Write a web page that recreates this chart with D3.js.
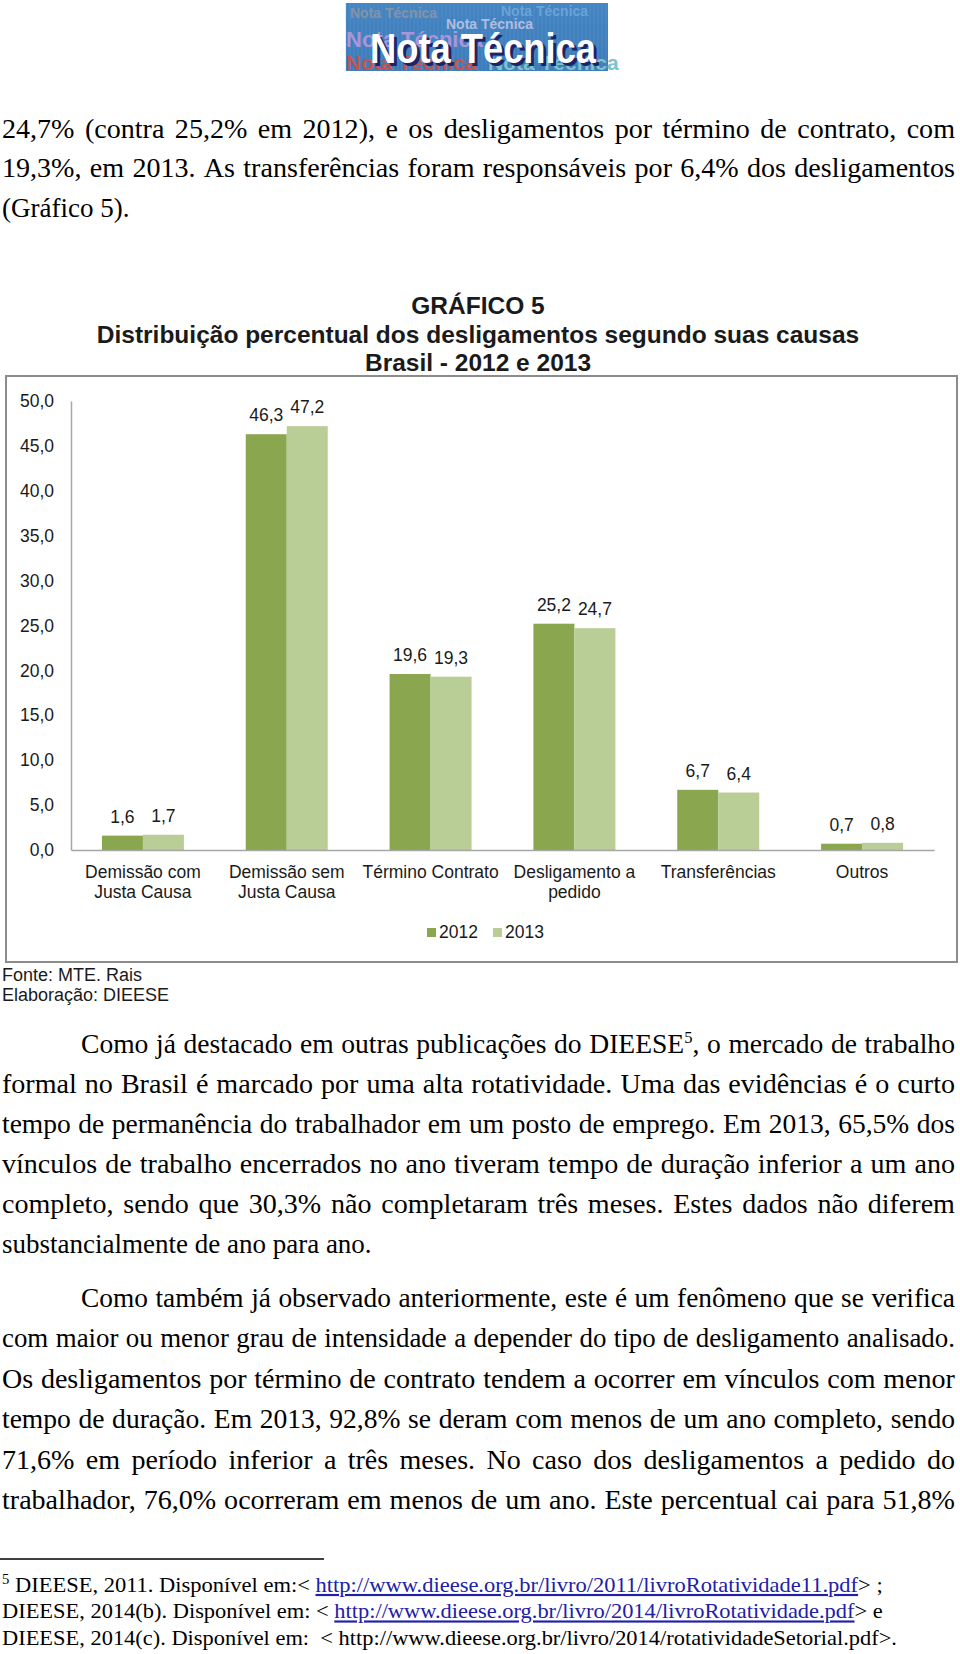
<!DOCTYPE html>
<html>
<head>
<meta charset="utf-8">
<style>
  body { margin: 0; background: #fff; }
  svg { display: block; }
</style>
</head>
<body>
<svg id="page" width="960" height="1654"></svg>
<script src="https://d3js.org/d3.v7.min.js"></script>
<script>
// chart data
const categories = ["Demissão com Justa Causa", "Demissão sem Justa Causa", "Término Contrato",
                    "Desligamento a pedido", "Transferências", "Outros"];
const categoryLines = [["Demissão com", "Justa Causa"], ["Demissão sem", "Justa Causa"], ["Término Contrato"],
                       ["Desligamento a", "pedido"], ["Transferências"], ["Outros"]];
const years = ["2012", "2013"];
const values2012 = [1.6, 46.3, 19.6, 25.2, 6.7, 0.7];
const values2013 = [1.7, 47.2, 19.3, 24.7, 6.4, 0.8];
const yTicks = [0, 5, 10, 15, 20, 25, 30, 35, 40, 45, 50];
const colors = {"2012": "#8aa64e", "2013": "#b9cd96"};

const titleLines = ["GRÁFICO 5", "Distribuição percentual dos desligamentos segundo suas causas", "Brasil - 2012 e 2013"];
const sourceLines = ["Fonte: MTE. Rais", "Elaboração: DIEESE"];

// body text, one entry per printed line; "^" marks superscript
const para0 = ["24,7% (contra 25,2% em 2012), e os desligamentos por término de contrato, com",
               "19,3%, em 2013. As transferências foram responsáveis por 6,4% dos desligamentos",
               "(Gráfico 5)."];
const para1 = ["Como já destacado em outras publicações do DIEESE^5^, o mercado de trabalho",
               "formal no Brasil é marcado por uma alta rotatividade. Uma das evidências é o curto",
               "tempo de permanência do trabalhador em um posto de emprego. Em 2013, 65,5% dos",
               "vínculos de trabalho encerrados no ano tiveram tempo de duração inferior a um ano",
               "completo, sendo que 30,3% não completaram três meses. Estes dados não diferem",
               "substancialmente de ano para ano."];
const para2 = ["Como também já observado anteriormente, este é um fenômeno que se verifica",
               "com maior ou menor grau de intensidade a depender do tipo de desligamento analisado.",
               "Os desligamentos por término de contrato tendem a ocorrer em vínculos com menor",
               "tempo de duração. Em 2013, 92,8% se deram com menos de um ano completo, sendo",
               "71,6% em período inferior a três meses. No caso dos desligamentos a pedido do",
               "trabalhador, 76,0% ocorreram em menos de um ano. Este percentual cai para 51,8%"];

const svg = d3.select("#page");
const fmt = v => d3.format(".1f")(v).replace(".", ",");

// ---------- logo ----------
const logo = svg.append("g").attr("transform", "translate(346,3)");
const grad = svg.append("defs").append("linearGradient").attr("id", "lg").attr("x1", 0).attr("y1", 0).attr("x2", 0).attr("y2", 1);
grad.append("stop").attr("offset", 0).attr("stop-color", "#4584c2");
grad.append("stop").attr("offset", 1).attr("stop-color", "#3d7bb9");
logo.append("rect").attr("width", 262).attr("height", 68).attr("fill", "url(#lg)");
logo.selectAll("line.g").data(d3.range(0, 262, 4)).join("line")
  .attr("x1", d => d).attr("x2", d => d).attr("y1", 0).attr("y2", 68)
  .attr("stroke", "#6aa0d2").attr("stroke-opacity", 0.35).attr("stroke-width", 1);
const bg = [
  {x: 4, y: 15, s: 14, c: "#8593a6"}, {x: 100, y: 26, s: 14, c: "#b0bde0"},
  {x: 155, y: 13, s: 14, c: "#6aa4d6"}, {x: 0, y: 44, s: 22, c: "#a995da"},
  {x: 0, y: 67, s: 21, c: "#c4544f"}, {x: 142, y: 67, s: 21, c: "#7cc4ca"}
];
logo.selectAll("text.bg").data(bg).join("text")
  .attr("x", d => d.x).attr("y", d => d.y)
  .attr("font-family", "Liberation Sans, Arial, sans-serif").attr("font-weight", "bold")
  .attr("font-size", d => d.s).attr("fill", d => d.c)
  .text("Nota Técnica");
logo.append("text").attr("x", 27).attr("y", 63)
  .attr("font-family", "Liberation Sans, Arial, sans-serif").attr("font-weight", "bold")
  .attr("font-size", 43).attr("fill", "#1b2466")
  .attr("textLength", 226).attr("lengthAdjust", "spacingAndGlyphs").text("Nota Técnica");
logo.append("text").attr("x", 24).attr("y", 60)
  .attr("font-family", "Liberation Sans, Arial, sans-serif").attr("font-weight", "bold")
  .attr("font-size", 43).attr("fill", "#ffffff")
  .attr("textLength", 226).attr("lengthAdjust", "spacingAndGlyphs").text("Nota Técnica");

// ---------- justified body text ----------
const serif = "'Liberation Serif', 'Times New Roman', serif";
const bodySize = 27;
const textLeft = 2, textRight = 955;

function addWord(g, word, size) {
  const t = g.append("text").attr("font-family", serif).attr("font-size", size).attr("fill", "#000");
  const parts = word.split("^");
  parts.forEach((p, i) => {
    if (!p) return;
    if (i % 2 === 1) t.append("tspan").attr("font-size", size * 0.6).attr("dy", -size * 0.38).text(p);
    else {
      const ts = t.append("tspan").text(p);
      if (i > 0) ts.attr("dy", size * 0.38);
    }
  });
  return t;
}

const spaceW = (() => { const t = addWord(svg, "a a", bodySize); const w1 = t.node().getComputedTextLength();
  t.text("aa"); const w2 = t.node().getComputedTextLength(); t.remove(); return w1 - w2; })();

function paragraph(lines, y0, step, indent, lastJustified) {
  lines.forEach((ln, i) => {
    const g = svg.append("g");
    const yy = y0 + i * step;
    const x0 = i === 0 ? textLeft + indent : textLeft;
    const words = ln.split(" ").map(w => {
      const t = addWord(g, w, bodySize).attr("y", yy);
      return {t, w: t.node().getComputedTextLength()};
    });
    const justify = i < lines.length - 1 || lastJustified;
    const sumW = d3.sum(words, d => d.w);
    const nat = sumW + spaceW * 1.1 * (words.length - 1);
    const avail = textRight - x0;
    // glyphs are stretched or squeezed a little so spacing stays even, as in the scan
    const sx = justify ? Math.max(0.86, Math.min(1.04, avail / nat)) : 1.0;
    const gap = justify && words.length > 1 ? (avail - sumW * sx) / (words.length - 1) : spaceW * sx;
    let x = x0;
    words.forEach(d => { d.t.attr("x", x / sx); x += d.w * sx + gap; });
    g.attr("transform", `scale(${sx},1)`);
  });
}
paragraph(para0, 138, 39.5, 0, false);
paragraph(para1, 1053, 40, 79, false);
paragraph(para2, 1307, 40.4, 79, true);

// ---------- chart ----------
const sans = "Liberation Sans, Arial, sans-serif";
svg.selectAll("text.title").data(titleLines).join("text")
  .attr("x", 478).attr("y", (d, i) => 314 + i * 28.5)
  .attr("text-anchor", "middle").attr("font-family", sans).attr("font-weight", "bold")
  .attr("font-size", 24.5).attr("fill", "#1a1a1a")
  .text(d => d);

svg.append("rect").attr("x", 6).attr("y", 376).attr("width", 951).attr("height", 586)
  .attr("fill", "none").attr("stroke", "#8c8c8c").attr("stroke-width", 2);

const x = d3.scaleBand().domain(categories).range([71, 934]).paddingInner(0.43).paddingOuter(0.215);
const xi = d3.scaleBand().domain(years).range([0, x.bandwidth()]);
const y = d3.scaleLinear().domain([0, 50]).range([850, 401]);

const yAxis = svg.append("g").attr("transform", "translate(71,0)")
  .call(d3.axisLeft(y).tickValues(yTicks).tickSize(0).tickSizeOuter(0).tickPadding(17).tickFormat(fmt));
yAxis.select(".domain").attr("stroke", "#a6a6a6").attr("stroke-width", 1.5);
yAxis.selectAll("text").attr("font-family", sans).attr("font-size", 17.5).attr("fill", "#1a1a1a");

const rows = categories.map((c, i) => ({cat: c, vals: [
  {year: "2012", v: values2012[i]}, {year: "2013", v: values2013[i]}]}));

const groups = svg.append("g").selectAll("g").data(rows).join("g")
  .attr("transform", d => `translate(${x(d.cat)},0)`);
groups.selectAll("rect").data(d => d.vals).join("rect")
  .attr("x", d => xi(d.year)).attr("width", xi.bandwidth())
  .attr("y", d => y(d.v)).attr("height", d => y(0) - y(d.v))
  .attr("fill", d => colors[d.year]);
groups.selectAll("text").data(d => d.vals).join("text")
  .attr("x", d => xi(d.year) + xi.bandwidth() / 2).attr("y", d => y(d.v) - 13)
  .attr("text-anchor", "middle").attr("font-family", sans).attr("font-size", 17.5).attr("fill", "#1a1a1a")
  .text(d => fmt(d.v));

const xAxis = svg.append("g").attr("transform", "translate(0,850)")
  .call(d3.axisBottom(x).tickSize(0).tickSizeOuter(0).tickFormat(""));
xAxis.select(".domain").attr("stroke", "#a6a6a6").attr("stroke-width", 1.5);

svg.append("g").selectAll("text").data(categories).join("text")
  .attr("x", d => x(d) + x.bandwidth() / 2).attr("y", 878)
  .attr("text-anchor", "middle").attr("font-family", sans).attr("font-size", 17.5).attr("fill", "#1a1a1a")
  .each(function(d, i) {
    d3.select(this).selectAll("tspan").data(categoryLines[i]).join("tspan")
      .attr("x", x(d) + x.bandwidth() / 2).attr("dy", (l, j) => j === 0 ? 0 : 20).text(l => l);
  });

// legend
const leg = svg.append("g").selectAll("g").data(years).join("g")
  .attr("transform", (d, i) => `translate(${427 + i * 66},0)`);
leg.append("rect").attr("x", 0).attr("y", 928).attr("width", 9).attr("height", 9).attr("fill", d => colors[d]);
leg.append("text").attr("x", 12).attr("y", 938).attr("font-family", sans).attr("font-size", 17.5)
  .attr("fill", "#1a1a1a").text(d => d);

svg.selectAll("text.src").data(sourceLines).join("text")
  .attr("x", 2).attr("y", (d, i) => 981 + i * 20)
  .attr("font-family", sans).attr("font-size", 18).attr("fill", "#1a1a1a").text(d => d);

// ---------- footnotes ----------
svg.append("line").attr("x1", 0).attr("x2", 324).attr("y1", 1559).attr("y2", 1559)
  .attr("stroke", "#000").attr("stroke-width", 1.5);
const notes = [
  {end: 883, parts: [{t: "5", sup: true}, {t: " DIEESE, 2011. Disponível em:< "},
    {t: "http://www.dieese.org.br/livro/2011/livroRotatividade11.pdf", link: true}, {t: "> ;"}]},
  {end: 883, parts: [{t: "DIEESE, 2014(b). Disponível em: < "},
    {t: "http://www.dieese.org.br/livro/2014/livroRotatividade.pdf", link: true}, {t: "> e"}]},
  {end: 897, parts: [{t: "DIEESE, 2014(c). Disponível em:  < http://www.dieese.org.br/livro/2014/rotatividadeSetorial.pdf>."}]}
];
notes.forEach((n, i) => {
  const g = svg.append("g");
  const t = g.append("text").attr("x", 2).attr("y", 1592 + i * 26.5)
    .attr("font-family", serif).attr("font-size", 21.5).attr("fill", "#000")
    .attr("xml:space", "preserve").style("white-space", "pre");
  n.parts.forEach(p => {
    const ts = t.append("tspan").text(p.t);
    if (p.sup) ts.attr("font-size", 14).attr("baseline-shift", "8");
    if (p.link) ts.attr("fill", "#2020a8").attr("text-decoration", "underline");
  });
  const w = t.node().getComputedTextLength();
  g.attr("transform", `translate(2,0) scale(${(n.end - 2) / w},1) translate(-2,0)`);
});
</script>
</body>
</html>
